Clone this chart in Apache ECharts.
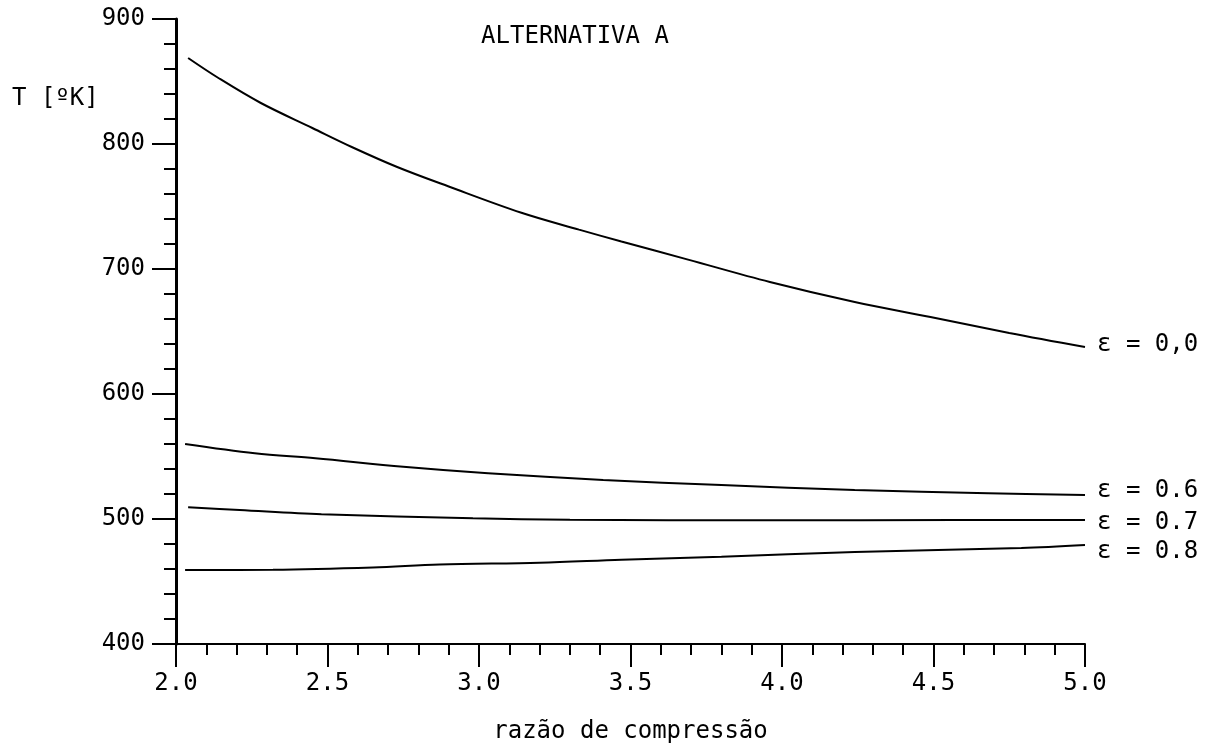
<!DOCTYPE html>
<html>
<head>
<meta charset="utf-8">
<script src="https://cdn.jsdelivr.net/npm/echarts@6/dist/echarts.min.js"></script>
<style>html,body{margin:0;padding:0;background:#fff}#c{width:1225px;height:751px}</style>
</head>
<body>
<div id="c"></div>
<script>
// ---- data ----
const titleText = 'ALTERNATIVA A';
const xName = 'razão de compressão';
const yName = 'T [ºK]';
const xMin = 2.0, xMax = 5.0, xStep = 0.5;
const yMin = 400, yMax = 900, yStep = 100;

const eps00Label = 'ε = 0,0';
const eps00X = [2.04, 2.14, 2.28, 2.45, 2.58, 2.73, 2.90, 3.14, 3.33, 3.47, 3.69, 3.96, 4.24, 4.49, 4.75, 5.00];
const eps00Y = [868.8, 852.8, 832.8, 812.8, 797.6, 781.6, 766.0, 745.0, 731.5, 722.0, 707.5, 689.6, 673.6, 661.6, 648.8, 637.6];

const eps06Label = 'ε = 0.6';
const eps06X = [2.03, 2.26, 2.46, 2.75, 3.03, 3.41, 3.80, 4.24, 4.68, 5.00];
const eps06Y = [560.0, 552.6, 548.6, 541.8, 536.6, 531.2, 527.2, 523.2, 520.6, 519.2];

const eps07Label = 'ε = 0.7';
const eps07X = [2.04, 2.21, 2.48, 2.98, 3.30, 3.95, 4.57, 5.00];
const eps07Y = [509.4, 507.2, 503.8, 500.6, 499.4, 499.0, 499.2, 499.2];

const eps08Label = 'ε = 0.8';
const eps08X = [2.03, 2.32, 2.65, 2.87, 3.20, 3.47, 3.80, 4.24, 4.79, 5.00];
const eps08Y = [459.2, 459.4, 461.2, 463.6, 465.0, 467.4, 469.8, 473.6, 476.8, 479.2];

const FONT = 'DejaVu Sans Mono';
const FS = 24;
const pair = (xs, ys) => xs.map((x, i) => [x, ys[i]]);

function lineSeries(name, xs, ys, labelOffsetY) {
  return {
    name: name,
    type: 'line',
    data: pair(xs, ys),
    smooth: 0.35,
    symbol: 'none',
    lineStyle: { color: '#000', width: 2 },
    endLabel: {
      show: true,
      formatter: name,
      color: '#000',
      fontFamily: FONT,
      fontSize: FS,
      distance: 12,
      offset: [0, labelOffsetY]
    },
    emphasis: { disabled: true }
  };
}

const chart = echarts.init(document.getElementById('c'), null, { renderer: 'canvas' });
chart.setOption({
  animation: false,
  backgroundColor: '#fff',
  title: {
    text: titleText,
    left: 570,
    top: 20,
    textAlign: 'center',
    textStyle: { fontFamily: FONT, fontSize: FS, fontWeight: 'normal', color: '#000' }
  },
  grid: { left: 176, right: 140, top: 19, bottom: 107, containLabel: false },
  xAxis: {
    type: 'value',
    min: xMin, max: xMax, interval: xStep,
    name: xName,
    nameLocation: 'middle',
    nameGap: 76,
    nameTextStyle: { fontFamily: FONT, fontSize: FS, color: '#000' },
    axisLine: { show: true, onZero: false, lineStyle: { color: '#000', width: 2 } },
    axisTick: { show: true, inside: false, length: 23, lineStyle: { color: '#000', width: 2 } },
    minorTick: { show: true, splitNumber: 5, length: 11, lineStyle: { color: '#000', width: 2 } },
    splitLine: { show: false },
    axisLabel: {
      margin: 28, fontFamily: FONT, fontSize: FS, color: '#000',
      formatter: v => v.toFixed(1)
    }
  },
  yAxis: {
    type: 'value',
    min: yMin, max: yMax, interval: yStep,
    axisLine: { show: true, lineStyle: { color: '#000', width: 3 } },
    axisTick: { show: true, inside: false, length: 24, lineStyle: { color: '#000', width: 2 } },
    minorTick: { show: true, splitNumber: 5, length: 12, lineStyle: { color: '#000', width: 2 } },
    splitLine: { show: false },
    axisLabel: { margin: 31, fontFamily: FONT, fontSize: FS, color: '#000' }
  },
  graphic: [{
    type: 'text',
    left: 12, top: 87,
    style: { text: yName, font: FS + 'px "DejaVu Sans Mono"', fill: '#000' }
  }],
  series: [
    lineSeries(eps00Label, eps00X, eps00Y, -2),
    lineSeries(eps06Label, eps06X, eps06Y, -4),
    lineSeries(eps07Label, eps07X, eps07Y, 3),
    lineSeries(eps08Label, eps08X, eps08Y, 7)
  ]
});
</script>
</body>
</html>
